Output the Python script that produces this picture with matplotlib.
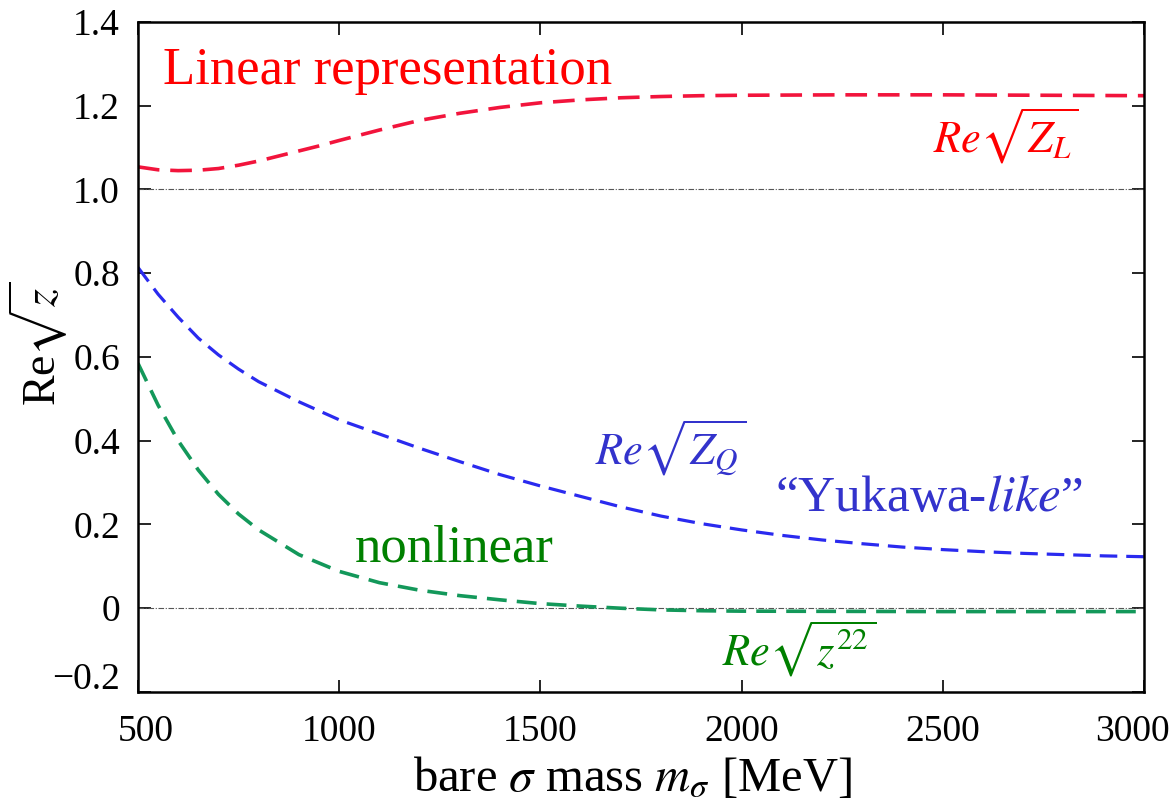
import numpy as np
import matplotlib
matplotlib.use("Agg")
import matplotlib.pyplot as plt
import matplotlib.transforms as mtrans

plt.rcParams['font.family'] = ['Liberation Serif', 'DejaVu Serif']
plt.rcParams['mathtext.fontset'] = 'stix'

# curves
m_red = [500, 550, 600, 650, 700, 750, 800, 850, 900, 950, 1000, 1100, 1200, 1300,
         1400, 1500, 1600, 1700, 1800, 1900, 2000, 2250, 2500, 2750, 3000]
z_red = [1.054, 1.047, 1.045, 1.046, 1.050, 1.058, 1.068, 1.080, 1.092, 1.104, 1.117,
         1.142, 1.165, 1.182, 1.196, 1.207, 1.214, 1.219, 1.222, 1.224, 1.225, 1.226,
         1.226, 1.225, 1.224]

m_blue = [500, 550, 600, 650, 700, 750, 800, 900, 1000, 1100, 1200, 1300, 1400, 1500,
          1600, 1700, 1800, 1900, 2000, 2100, 2200, 2300, 2400, 2500, 2600, 2700,
          2800, 2900, 3000]
z_blue = [0.814, 0.750, 0.695, 0.645, 0.605, 0.571, 0.541, 0.493, 0.450, 0.416, 0.382,
          0.350, 0.319, 0.292, 0.267, 0.242, 0.220, 0.202, 0.187, 0.174, 0.163, 0.154,
          0.146, 0.140, 0.135, 0.131, 0.128, 0.125, 0.123]

m_green = [500, 550, 600, 650, 700, 750, 800, 900, 1000, 1100, 1200, 1300, 1400, 1500,
           1600, 1700, 1800, 1900, 2000, 2500, 3000]
z_green = [0.585, 0.485, 0.400, 0.330, 0.272, 0.225, 0.187, 0.128, 0.088, 0.061, 0.043,
           0.030, 0.020, 0.011, 0.005, 0.000, -0.004, -0.006, -0.007, -0.008, -0.008]

xticks = [500, 1000, 1500, 2000, 2500, 3000]
yticks = [-0.2, 0, 0.2, 0.4, 0.6, 0.8, 1.0, 1.2, 1.4]
ylabels = ['\u22120.2', '0', '0.2', '0.4', '0.6', '0.8', '1.0', '1.2', '1.4']

fig = plt.figure(figsize=(11.74, 8.08), dpi=100)
ax = fig.add_axes([0.1175, 0.1436, 0.857, 0.8292])

ax.axhline(0, color='#555555', lw=0.8, dashes=(5, 1.5, 1, 1.5))
ax.axhline(1.0, color='#555555', lw=0.8, dashes=(5, 1.5, 1, 1.5))

ax.plot(m_red, z_red, color='#f2143c', lw=2.6, dashes=(6, 3))
ax.plot(m_blue, z_blue, color='#2a2aef', lw=2.3, dashes=(5.5, 2.8))
ax.plot(m_green, z_green, color='#13985a', lw=2.6, dashes=(5.5, 2.8))

ax.set_xlim(500, 3000)
ax.set_ylim(-0.2, 1.4)
ax.set_xticks(xticks)
ax.set_yticks(yticks)
ax.set_yticklabels(ylabels)
ax.tick_params(direction='in', length=9, width=1.2, labelsize=27,
               top=True, right=True)
ax.tick_params(axis='x', pad=16)
ax.tick_params(axis='y', pad=13)
for s in ax.spines.values():
    s.set_linewidth(1.8)

# nudge the end tick labels like in the original
xl = ax.get_xticklabels()
xl[0].set_transform(xl[0].get_transform() + mtrans.ScaledTranslation(0.08, 0, fig.dpi_scale_trans))
xl[-1].set_transform(xl[-1].get_transform() + mtrans.ScaledTranslation(-0.12, 0, fig.dpi_scale_trans))
yl = ax.get_yticklabels()
yl[0].set_transform(yl[0].get_transform() + mtrans.ScaledTranslation(0, 0.16, fig.dpi_scale_trans))

ax.set_xlabel(r'bare $\sigma$ mass $m_\sigma$ [MeV]', fontsize=35)
ax.xaxis.set_label_coords(0.491, -0.095)
ax.set_ylabel(r'Re$\sqrt{z}$', fontsize=33)
ax.yaxis.set_label_coords(-0.068, 0.52)

ax.text(562, 1.252, 'Linear representation', color='#ff0000', fontsize=38, va='baseline')
ax.text(2476, 1.088, r'$Re\sqrt{Z_L}$', color='#ff0000', fontsize=32, va='baseline')
ax.text(1636, 0.343, r'$Re\sqrt{Z_Q}$', color='#3333cc', fontsize=32, va='baseline')
ax.text(2083, 0.231, '\u201cYukawa-$\\mathit{like}$\u201d', color='#3333cc', fontsize=37, va='baseline')
ax.text(1039, 0.112, 'nonlinear', color='#008000', fontsize=38, va='baseline')
ax.text(1951, -0.138, r'$Re\sqrt{z^{22}}$', color='#008000', fontsize=32, va='baseline')

fig.savefig('out.png', dpi=100)
